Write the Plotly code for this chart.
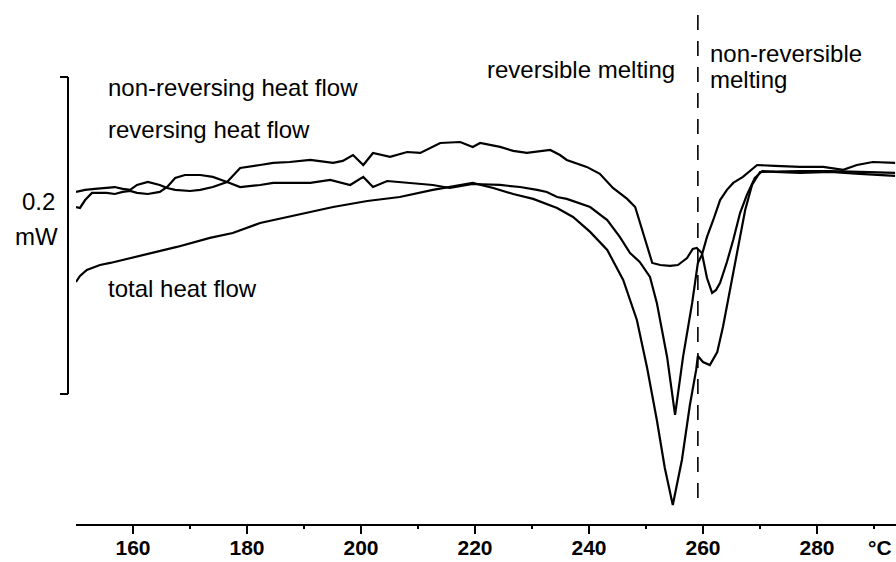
import plotly.graph_objects as go

# ---- data: temperature (°C) and heat flow (mW, common offset) ----
nonrev_T = [150.0, 151.6, 153.3, 155.4, 156.8, 158.2, 159.5, 160.7, 162.6, 164.7, 166.0, 167.4,
            170.0, 171.8, 174.0, 176.5, 178.8, 182.3, 184.6, 187.5, 191.1, 195.1, 196.8, 198.6,
            200.4, 202.1, 205.1, 208.1, 210.4, 213.9, 217.4, 219.6, 220.9, 224.4, 226.7, 229.1,
            231.4, 233.2, 234.9, 236.1, 239.6, 241.9, 244.2, 246.7, 248.1, 249.5, 251.1, 252.5,
            254.2, 255.6, 257.2, 258.2, 258.9, 259.8, 260.7, 261.6, 262.3, 263.0, 264.2, 265.3,
            266.5, 267.7, 269.1, 270.4, 272.6, 277.0, 282.3, 287.5, 293.7]
nonrev_hf = [0.2095, 0.2108, 0.2114, 0.2120, 0.2126, 0.2114, 0.2108, 0.2139, 0.2158, 0.2139, 0.2120, 0.2108,
             0.2101, 0.2108, 0.2126, 0.2158, 0.2246, 0.2265, 0.2278, 0.2284, 0.2297, 0.2278, 0.2291, 0.2328,
             0.2265, 0.2341, 0.2316, 0.2347, 0.2341, 0.2404, 0.2410, 0.2379, 0.2404, 0.2379, 0.2354, 0.2341,
             0.2354, 0.2360, 0.2328, 0.2297, 0.2253, 0.2209, 0.2120, 0.2051, 0.2000, 0.1836, 0.1647, 0.1634,
             0.1628, 0.1634, 0.1678, 0.1735, 0.1742, 0.1710, 0.1552, 0.1458, 0.1477, 0.1521, 0.1653, 0.1792,
             0.1962, 0.2076, 0.2183, 0.2227, 0.2221, 0.2215, 0.2221, 0.2209, 0.2196]

rev_T = [150.0, 150.7, 151.6, 152.8, 155.4, 156.8, 158.2, 159.5, 160.7, 162.6, 164.7, 166.0,
         167.4, 169.1, 171.8, 174.0, 176.5, 178.8, 182.3, 184.6, 187.5, 191.1, 194.6, 198.1,
         200.4, 202.1, 204.6, 208.1, 212.6, 215.6, 219.6, 224.4, 227.9, 230.9, 232.6, 234.4,
         236.1, 240.2, 243.2, 245.4, 247.2, 248.9, 250.7, 251.9, 253.7, 255.1, 256.5, 258.1,
         259.1, 259.8, 260.7, 261.8, 263.0, 264.2, 265.3, 267.0, 269.5, 272.6, 277.0, 281.1,
         284.6, 287.0, 289.8, 293.7]
rev_hf = [0.2000, 0.1994, 0.2044, 0.2089, 0.2089, 0.2082, 0.2095, 0.2101, 0.2089, 0.2082, 0.2095, 0.2126,
          0.2183, 0.2202, 0.2202, 0.2190, 0.2158, 0.2126, 0.2139, 0.2152, 0.2152, 0.2152, 0.2171, 0.2139,
          0.2190, 0.2126, 0.2164, 0.2152, 0.2139, 0.2120, 0.2145, 0.2139, 0.2126, 0.2108, 0.2095, 0.2063,
          0.2051, 0.2000, 0.1918, 0.1811, 0.1710, 0.1653, 0.1559, 0.1395, 0.1054, 0.0688, 0.1054, 0.1395,
          0.1647, 0.1697, 0.1811, 0.1918, 0.2044, 0.2108, 0.2152, 0.2190, 0.2265, 0.2259, 0.2253, 0.2253,
          0.2234, 0.2265, 0.2284, 0.2278]

total_T = [150.0, 150.7, 151.9, 154.2, 156.0, 161.8, 167.7, 173.5, 177.5, 182.3, 187.0, 191.1,
           195.1, 201.1, 206.8, 212.6, 217.4, 219.6, 223.2, 226.7, 230.2, 234.4, 237.2, 240.2,
           243.2, 246.0, 248.4, 250.2, 251.9, 253.3, 254.7, 256.3, 257.7, 258.8, 259.1, 260.0,
           261.2, 262.5, 263.5, 264.7, 266.0, 267.4, 268.6, 270.0, 277.0, 282.3, 287.5, 293.7]
total_hf = [0.1527, 0.1565, 0.1603, 0.1634, 0.1647, 0.1697, 0.1748, 0.1805, 0.1836, 0.1899, 0.1937, 0.1969,
            0.2000, 0.2038, 0.2063, 0.2108, 0.2139, 0.2152, 0.2120, 0.2082, 0.2051, 0.1994, 0.1937, 0.1843,
            0.1729, 0.1540, 0.1287, 0.0984, 0.0656, 0.0353, 0.0120, 0.0404, 0.0751, 0.0972, 0.1060, 0.1022,
            0.1003, 0.1085, 0.1243, 0.1477, 0.1729, 0.1981, 0.2139, 0.2221, 0.2227, 0.2227, 0.2221, 0.2215]

x_ticks = [160, 180, 200, 220, 240, 260, 280]
x_minor = [170, 190, 210, 230, 250, 270, 290]
x_unit = "°C"
boundary_T = 259.1          # reversible / non-reversible melting boundary
scale_bar_mW = 0.2
scale_bar_base = 0.082
scale_label = ["0.2", "mW"]
curve_labels = ["non-reversing heat flow", "reversing heat flow", "total heat flow"]
region_labels = ["reversible melting", "non-reversible", "melting"]

FONT = "Liberation Sans, Arial, Helvetica, sans-serif"
X_RANGE = [150, 293.86]
Y_RANGE = [0, 0.3306]

fig = go.Figure()
for T, hf, name in [(nonrev_T, nonrev_hf, curve_labels[0]),
                    (rev_T, rev_hf, curve_labels[1]),
                    (total_T, total_hf, curve_labels[2])]:
    fig.add_trace(go.Scatter(x=T, y=hf, mode="lines", name=name,
                             line=dict(color="black", width=2.2), showlegend=False))

# dashed boundary line
fig.add_shape(type="line", xref="x", yref="y", x0=boundary_T, x1=boundary_T,
              y0=0.0164, y1=0.3224, line=dict(color="black", width=1.6, dash="15px,11px"))

# scale bar bracket (left of plot)
bx = -8 / 820
bt = -16 / 820
top = scale_bar_base + scale_bar_mW
fig.add_shape(type="line", xref="paper", yref="y", x0=bx, x1=bx, y0=scale_bar_base, y1=top,
              line=dict(color="black", width=2))
fig.add_shape(type="line", xref="paper", yref="y", x0=bt, x1=bx, y0=top, y1=top,
              line=dict(color="black", width=2))
fig.add_shape(type="line", xref="paper", yref="y", x0=bt, x1=bx, y0=scale_bar_base, y1=scale_bar_base,
              line=dict(color="black", width=2))

tf = dict(family=FONT, size=24, color="black")
ann = []
ann.append(dict(text=scale_label[0], xref="paper", yref="y", x=-38 / 820, y=0.2032,
                xanchor="center", yanchor="middle", showarrow=False, font=tf))
ann.append(dict(text=scale_label[1], xref="paper", yref="y", x=-40 / 820, y=0.1811,
                xanchor="center", yanchor="middle", showarrow=False, font=tf))
ann.append(dict(text=curve_labels[0], xref="x", yref="y", x=155.3, y=0.2751,
                xanchor="left", yanchor="middle", showarrow=False, font=tf))
ann.append(dict(text=curve_labels[1], xref="x", yref="y", x=155.3, y=0.2486,
                xanchor="left", yanchor="middle", showarrow=False, font=tf))
ann.append(dict(text=curve_labels[2], xref="x", yref="y", x=155.3, y=0.1483,
                xanchor="left", yanchor="middle", showarrow=False, font=tf))
ann.append(dict(text=region_labels[0], xref="x", yref="y", x=255.5, y=0.2865,
                xanchor="right", yanchor="middle", showarrow=False, font=tf))
ann.append(dict(text=region_labels[1], xref="x", yref="y", x=260.8, y=0.2966,
                xanchor="left", yanchor="middle", showarrow=False, font=tf))
ann.append(dict(text=region_labels[2], xref="x", yref="y", x=260.8, y=0.2802,
                xanchor="left", yanchor="middle", showarrow=False, font=tf))
ann.append(dict(text=x_unit, xref="paper", yref="paper", x=(880 - 76) / 820, y=-23 / 524,
                xanchor="center", yanchor="middle", showarrow=False,
                font=dict(family=FONT, size=21, color="black", weight="bold")))

fig.update_layout(
    width=896, height=562,
    margin=dict(l=76, r=0, t=0, b=38, autoexpand=False),
    paper_bgcolor="white", plot_bgcolor="white",
    annotations=ann,
    xaxis=dict(range=X_RANGE, showline=True, linecolor="black", linewidth=2,
               automargin=False,
               ticks="outside", ticklen=8, tickwidth=2, tickcolor="black",
               tickmode="array", tickvals=x_ticks, ticktext=[str(t) for t in x_ticks],
               tickfont=dict(family=FONT, size=21, color="black", weight="bold"),
               ticklabelstandoff=-4,
               minor=dict(tickmode="array", tickvals=x_minor, ticks="outside", ticklen=3,
                          tickwidth=1.5, tickcolor="black"),
               showgrid=False, zeroline=False, fixedrange=True),
    yaxis=dict(range=Y_RANGE, visible=False, showgrid=False, zeroline=False,
               automargin=False, fixedrange=True),
)

fig.write_html("out.html")
